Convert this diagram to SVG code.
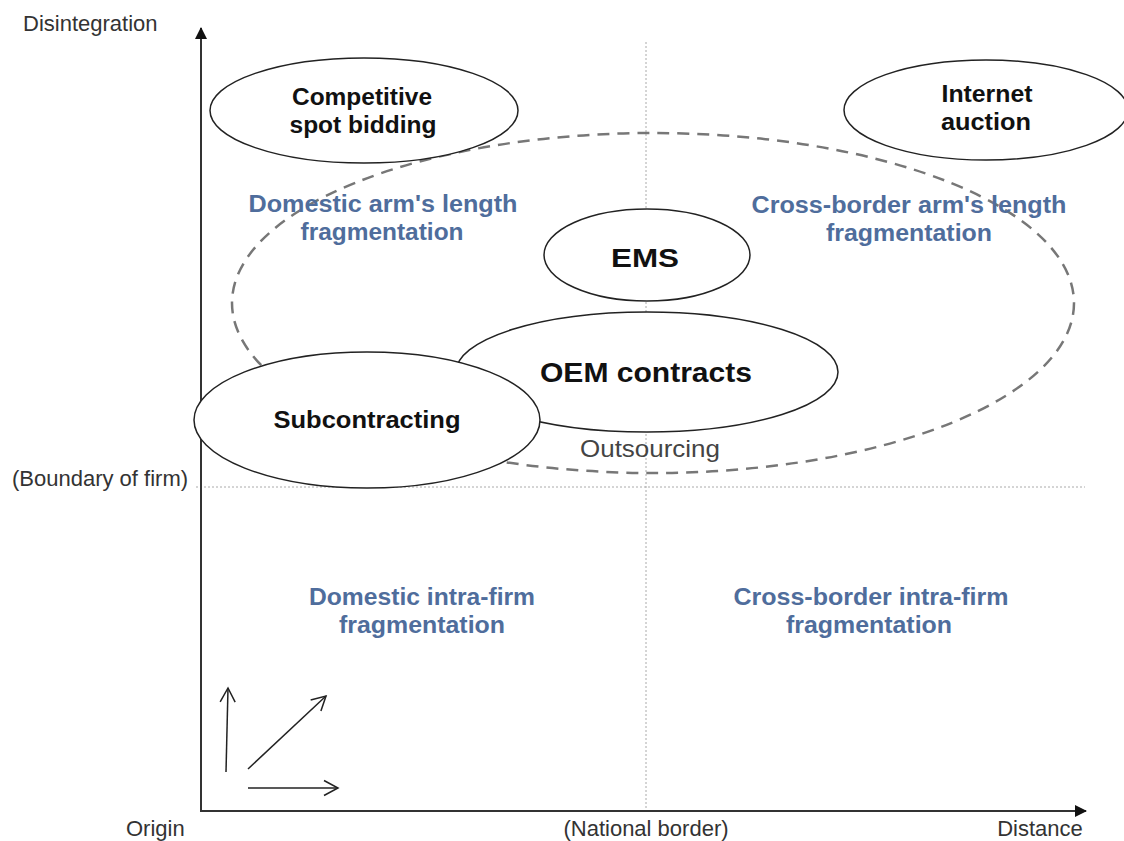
<svg xmlns="http://www.w3.org/2000/svg" width="1124" height="841" viewBox="0 0 1124 841">
<style>
text{font-family:"Liberation Sans",Arial,sans-serif}
.lbl{font-size:22px;fill:#333}
.node{fill:#fff;stroke:#222;stroke-width:1.5}
.nt{font-weight:bold;fill:#111;text-anchor:middle}
.blue{font-weight:bold;fill:#4f6d9c;font-size:23px;text-anchor:middle}
.axis{stroke:#333;stroke-width:2;fill:none}
.dot{stroke:#aaa;stroke-width:1;stroke-dasharray:2 2;fill:none}
.small{stroke:#222;stroke-width:1.5;fill:none}
</style>
<defs>
<marker id="tri" markerWidth="12" markerHeight="12" refX="11" refY="6" orient="auto" markerUnits="userSpaceOnUse"><path d="M0,0 L12,6 L0,12 z" fill="#111"/></marker>
<marker id="open" markerWidth="18" markerHeight="18" refX="15" refY="9" orient="auto" markerUnits="userSpaceOnUse"><path d="M1,1.5 L15,9 L1,16.5" fill="none" stroke="#222" stroke-width="1.5"/></marker>
</defs>
<rect width="1124" height="841" fill="#fff"/>
<g id="grid">
<line class="dot" x1="646" y1="42" x2="646" y2="810"/>
<line class="dot" x1="196" y1="487" x2="1085" y2="487"/>
</g>
<g id="outsourcing">
<ellipse cx="653" cy="303" rx="421" ry="170" fill="none" stroke="#777" stroke-width="2.5" stroke-dasharray="12 8"/>
<text x="650" y="457" text-anchor="middle" font-size="24" fill="#444" textLength="140" lengthAdjust="spacingAndGlyphs">Outsourcing</text>
</g>
<g id="connectors">
<line class="axis" x1="201" y1="811" x2="201" y2="28" marker-end="url(#tri)"/>
<line class="axis" x1="200" y1="811" x2="1086" y2="811" marker-end="url(#tri)"/>
<line class="small" x1="226" y1="772" x2="228" y2="688" marker-end="url(#open)"/>
<line class="small" x1="248" y1="769" x2="326" y2="696" marker-end="url(#open)"/>
<line class="small" x1="248" y1="788" x2="338" y2="788" marker-end="url(#open)"/>
</g>
<g id="competitive">
<ellipse class="node" cx="364" cy="110.5" rx="154" ry="52.5"/>
<text class="nt" x="362" y="105" font-size="23" textLength="140" lengthAdjust="spacingAndGlyphs">Competitive</text>
<text class="nt" x="363" y="133" font-size="23" textLength="147" lengthAdjust="spacingAndGlyphs">spot bidding</text>
</g>
<g id="internet">
<ellipse class="node" cx="986" cy="110" rx="142" ry="50"/>
<text class="nt" x="987" y="102" font-size="23" textLength="91" lengthAdjust="spacingAndGlyphs">Internet</text>
<text class="nt" x="986" y="130" font-size="23" textLength="90" lengthAdjust="spacingAndGlyphs">auction</text>
</g>
<g id="ems">
<ellipse class="node" cx="647" cy="255" rx="103" ry="46"/>
<text class="nt" x="645" y="267" font-size="26" textLength="68" lengthAdjust="spacingAndGlyphs">EMS</text>
</g>
<g id="oem">
<ellipse class="node" cx="647" cy="372" rx="191" ry="60"/>
<text class="nt" x="646" y="382" font-size="28" textLength="212" lengthAdjust="spacingAndGlyphs">OEM contracts</text>
</g>
<g id="subcontracting">
<ellipse class="node" cx="367" cy="420" rx="173" ry="68"/>
<text class="nt" x="367" y="428" font-size="24" textLength="187" lengthAdjust="spacingAndGlyphs">Subcontracting</text>
</g>
<g id="quadrants">
<text class="blue" x="383" y="212" textLength="269" lengthAdjust="spacingAndGlyphs">Domestic arm's length</text>
<text class="blue" x="382" y="240" textLength="163" lengthAdjust="spacingAndGlyphs">fragmentation</text>
<text class="blue" x="909" y="213" textLength="315" lengthAdjust="spacingAndGlyphs">Cross-border arm's length</text>
<text class="blue" x="909" y="241" textLength="166" lengthAdjust="spacingAndGlyphs">fragmentation</text>
<text class="blue" x="422" y="605" textLength="226" lengthAdjust="spacingAndGlyphs">Domestic intra-firm</text>
<text class="blue" x="422" y="633" textLength="166" lengthAdjust="spacingAndGlyphs">fragmentation</text>
<text class="blue" x="871" y="605" textLength="275" lengthAdjust="spacingAndGlyphs">Cross-border intra-firm</text>
<text class="blue" x="869" y="633" textLength="166" lengthAdjust="spacingAndGlyphs">fragmentation</text>
</g>
<g id="labels">
<text class="lbl" x="23" y="31">Disintegration</text>
<text class="lbl" x="12" y="486">(Boundary of firm)</text>
<text class="lbl" x="126" y="836">Origin</text>
<text class="lbl" x="646" y="836" text-anchor="middle">(National border)</text>
<text class="lbl" x="1040" y="836" text-anchor="middle">Distance</text>
</g>
</svg>
